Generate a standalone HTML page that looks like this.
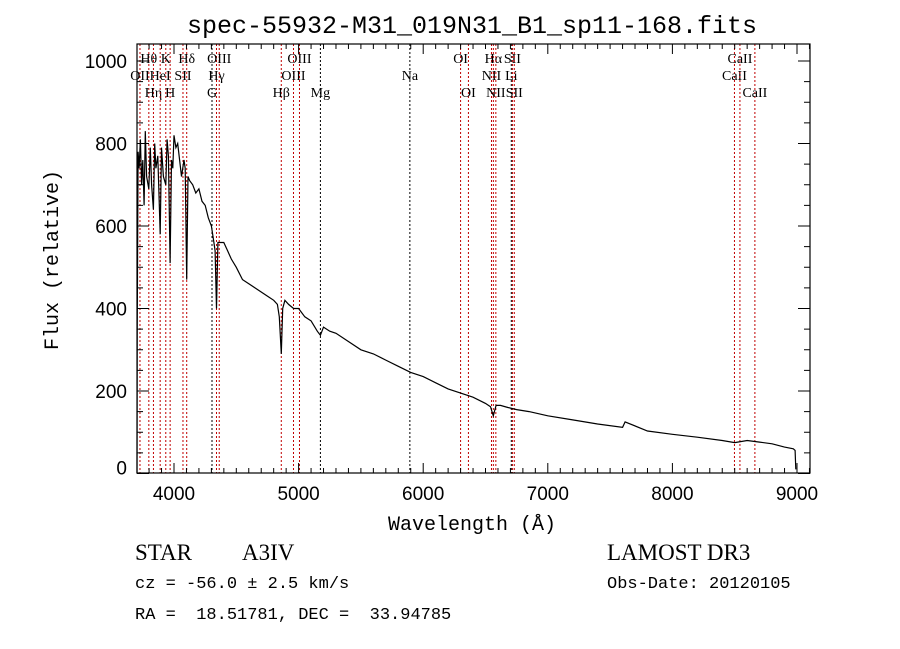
<!DOCTYPE html>
<html><head><meta charset="utf-8"><style>
body{margin:0;background:#fff;width:900px;height:649px;overflow:hidden}
svg{display:block}
text{font-family:"Liberation Serif",serif;fill:#000;white-space:pre}
</style></head><body>
<svg id="chart" width="900" height="649" viewBox="0 0 900 649" xmlns="http://www.w3.org/2000/svg">
<rect width="900" height="649" fill="#fff"/>
<text x="472" y="33" text-anchor="middle" font-size="25" style="font-family:'Liberation Mono',monospace">spec-55932-M31_019N31_B1_sp11-168.fits</text>
<g id="lines"></g>
<g id="ticks"></g>
<path id="spec" fill="none" stroke="#000" stroke-width="1.2"/>
<rect x="137" y="44" width="673" height="429" fill="none" stroke="#000" stroke-width="1.2"/>
<text x="472" y="530" text-anchor="middle" font-size="20" style="font-family:'Liberation Mono',monospace">Wavelength (Å)</text>
<text transform="translate(58,260) rotate(-90)" text-anchor="middle" font-size="20" style="font-family:'Liberation Mono',monospace">Flux (relative)</text>
<text x="135" y="560" font-size="23">STAR</text>
<text x="242" y="560" font-size="23">A3IV</text>
<text x="607" y="560" font-size="23">LAMOST DR3</text>
<text x="135" y="588" font-size="17" style="font-family:'Liberation Mono',monospace">cz = -56.0 ± 2.5 km/s</text>
<text x="607" y="588" font-size="17" style="font-family:'Liberation Mono',monospace">Obs-Date: 20120105</text>
<text x="135" y="619" font-size="17" style="font-family:'Liberation Mono',monospace">RA =  18.51781, DEC =  33.94785</text>
</svg>
<script>
const waves=[3703,3705,3712,3720,3730,3740,3750,3760,3770,3780,3798,3810,3820,3835,3845,3855,3870,3889,3900,3915,3934,3945,3955,3969,3980,3990,4000,4015,4030,4045,4060,4080,4090,4102,4112,4125,4150,4175,4200,4225,4250,4275,4300,4320,4330,4341,4352,4370,4400,4430,4460,4500,4550,4600,4650,4700,4750,4800,4830,4845,4861,4872,4890,4920,4960,5000,5050,5100,5150,5175,5200,5250,5300,5400,5500,5600,5700,5800,5900,6000,6100,6200,6300,6400,6500,6540,6563,6585,6620,6680,6750,6850,7000,7200,7400,7600,7620,7800,8000,8200,8400,8500,8600,8700,8800,8900,8970,8985,8990];
const fluxes=[0,340,780,740,810,700,760,650,830,720,690,790,700,640,800,740,770,580,790,720,700,810,770,510,760,740,820,790,800,760,720,760,740,470,720,710,700,680,690,660,650,620,600,560,540,400,560,560,560,540,520,500,470,460,450,440,430,420,410,380,290,400,420,410,400,400,380,370,345,335,355,345,340,320,300,290,275,260,245,235,220,205,195,185,170,162,140,165,165,160,155,150,140,130,120,112,125,103,95,88,80,75,80,76,72,64,60,56,10];
const xTicks=[4000,5000,6000,7000,8000,9000];
const yTicks=[0,200,400,600,800,1000];
const lineWaves=[3727,3798,3835,3889,3934,3969,4072,4102,4305,4341,4363,4861,4959,5007,5175,5893,6300,6363,6548,6563,6583,6707,6716,6731,8498,8542,8662];
const lineNames=["OII","Hθ","Hη","HeI","K","H","SII","Hδ","G","Hγ","OIII","Hβ","OIII","OIII","Mg","Na","OI","OI","NII","Hα","NII","Li","SII","SII","CaII","CaII","CaII"];
const lineRow=[1,0,2,1,0,2,1,0,2,1,0,2,1,0,2,1,0,2,1,0,2,1,0,2,1,0,2];
const lineRed=[1,1,1,1,1,1,1,1,0,1,1,1,1,1,0,0,1,1,1,1,1,0,1,1,1,1,1];
const X=w=>174+(w-4000)*0.1246;
const Y=f=>473.5-f*0.4125;
const NS="http://www.w3.org/2000/svg";
function mk(t,a){const e=document.createElementNS(NS,t);for(const k in a)e.setAttribute(k,a[k]);return e;}
const lg=document.getElementById('lines');
lineWaves.forEach((w,i)=>{
 const x=X(w);
 const l=mk('line',{x1:x,x2:x,y1:44,y2:473,stroke:lineRed[i]?'#c00000':'#000','stroke-width':1,'stroke-dasharray':'2,2'});
 
 
 lg.appendChild(l);
 const t=mk('text',{x:x,y:63+lineRow[i]*17,'text-anchor':'middle','font-size':14});
 
 
 t.textContent=lineNames[i];lg.appendChild(t);
});
const tg=document.getElementById('ticks');
for(let w=3800;w<=9100;w+=100){const x=X(w);const big=w%1000===0;
 tg.appendChild(mk('line',{x1:x,x2:x,y1:473,y2:473-(big?10:5),stroke:'#000'}));
 tg.appendChild(mk('line',{x1:x,x2:x,y1:44,y2:44+(big?10:5),stroke:'#000'}));}
xTicks.forEach(w=>{const t=mk('text',{x:X(w),y:500,'text-anchor':'middle','font-size':19,style:"font-family:'Liberation Sans',sans-serif"});
 
 
 t.textContent=w;tg.appendChild(t);});
for(let f=0;f<=1040;f+=50){const y=Y(f);const big=f%200===0;
 tg.appendChild(mk('line',{x1:137,x2:137+(big?12:6),y1:y,y2:y,stroke:'#000'}));
 tg.appendChild(mk('line',{x1:810,x2:810-(big?12:6),y1:y,y2:y,stroke:'#000'}));}
yTicks.forEach(f=>{const t=mk('text',{x:127,y:Y(f)+7-(f===0?6:0),'text-anchor':'end','font-size':19,style:"font-family:'Liberation Sans',sans-serif"});
 
 
 t.textContent=f;tg.appendChild(t);});
document.getElementById('spec').setAttribute('d',waves.map((w,i)=>(i?'L':'M')+X(w).toFixed(1)+','+Y(fluxes[i]).toFixed(1)).join(''));
</script>
</body></html>
